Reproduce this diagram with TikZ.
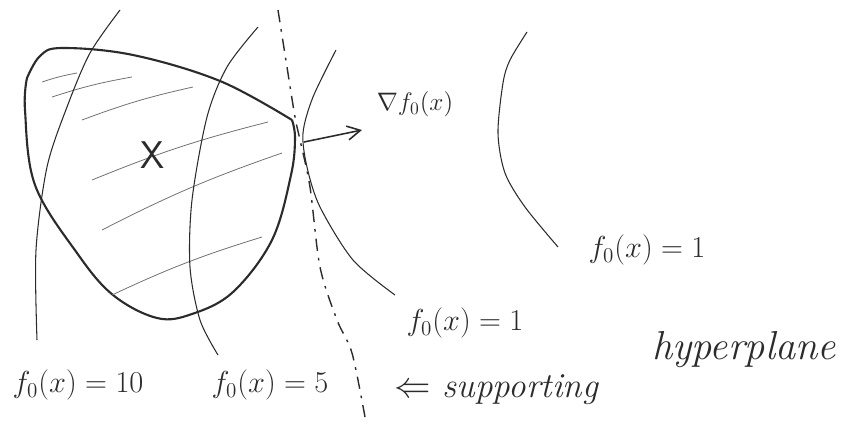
\documentclass[tikz,border=0pt]{standalone}
\usepackage{amsmath,amssymb}
\usepackage{fontspec}
\usepackage{tikz}
\usetikzlibrary{arrows.meta,calc,positioning}
\definecolor{pencil}{HTML}{2B2B2B}
\definecolor{lightpencil}{HTML}{707070}

\begin{document}
\begin{tikzpicture}[x=0.02cm,y=-0.02cm,
    setline/.style={draw=pencil,line width=1.2pt,line join=round},
    level/.style={draw=pencil,line width=0.6pt},
    hatch/.style={draw=lightpencil,line width=0.45pt},
    hyper/.style={draw=pencil,line width=0.8pt,dash pattern=on 7pt off 4pt on 1.5pt off 4pt},
    lbl/.style={text=pencil,inner sep=0pt,font=\fontsize{17}{20}\selectfont}
  ]
  \useasboundingbox (0,0) rectangle (850,434);
  % feasible set, sharp corner where the hyperplane touches it
  \draw[setline] plot[smooth,tension=0.6] coordinates {(292,120) (220,81) (133,55) (62,48) (40,56) (27,78)}
    -- plot[smooth,tension=0.6] coordinates {(27,78) (25,110) (35,185) (77,253) (113,295) (157,318)
       (192,314) (233,292) (272,240) (291,175) (295,138) (292,120)};
  \draw[hatch] (42,82) to[bend left=4] (77,73);
  \draw[hatch] (52,97) to[bend left=4] (132,77);
  \draw[hatch] (82,120) to[bend left=4] (193,87);
  \draw[hatch] (92,180) to[bend left=4] (268,122);
  \draw[hatch] (102,230) to[bend left=4] (282,153);
  \draw[hatch] (112,295) to[bend left=4] (262,237);
  \node[lbl,font=\sffamily\fontsize{22}{24}\selectfont] (setname) at (153,155) {X};
  % level curves of the objective
  \draw[level] plot[smooth] coordinates {(120,10) (90,53) (67,107) (47,167) (36,250) (37,340)};
  \draw[level] plot[smooth] coordinates {(258,27) (227,67) (207,117) (192,200) (190,267) (200,320) (218,355)};
  \draw[level] plot[smooth] coordinates {(336,50) (313,97) (303,133) (307,167) (320,207) (353,260) (395,295)};
  \draw[level] plot[smooth] coordinates {(527,32) (510,60) (503,83) (498,133) (505,173) (525,207) (558,247)};
  \draw[hyper] plot[smooth] coordinates {(278,10) (287,67) (295,117) (300,140) (310,187) (320,267)
    (337,320) (352,353) (365,417)};
  \coordinate (touch) at (304,142);
  \coordinate (gradtip) at (362,130);
  \draw[-{Straight Barb[length=2.6mm,width=2.8mm]},line width=0.9pt,pencil] (touch) -- (gradtip);
  \node[lbl,font=\fontsize{14}{16}\selectfont] (gradname) at (415,104) {$\nabla f_0(x)$};
  \node[lbl] (farlevel) at (647,250) {$f_0(x) = 1$};
  \node[lbl] (midlevel) at (465,323) {$f_0(x) = 1$};
  \node[lbl] (tenlevel) at (78,385) {$f_0(x) = 10$};
  \node[lbl] (fivelevel) at (270,385) {$f_0(x) = 5$};
  \node[lbl,font=\itshape\fontsize{20}{24}\selectfont] (supp) at (496,390) {$\Leftarrow$ supporting};
  \node[lbl,font=\itshape\fontsize{23}{26}\selectfont] (hyp) at (744,350) {hyperplane};
\end{tikzpicture}
\end{document}
